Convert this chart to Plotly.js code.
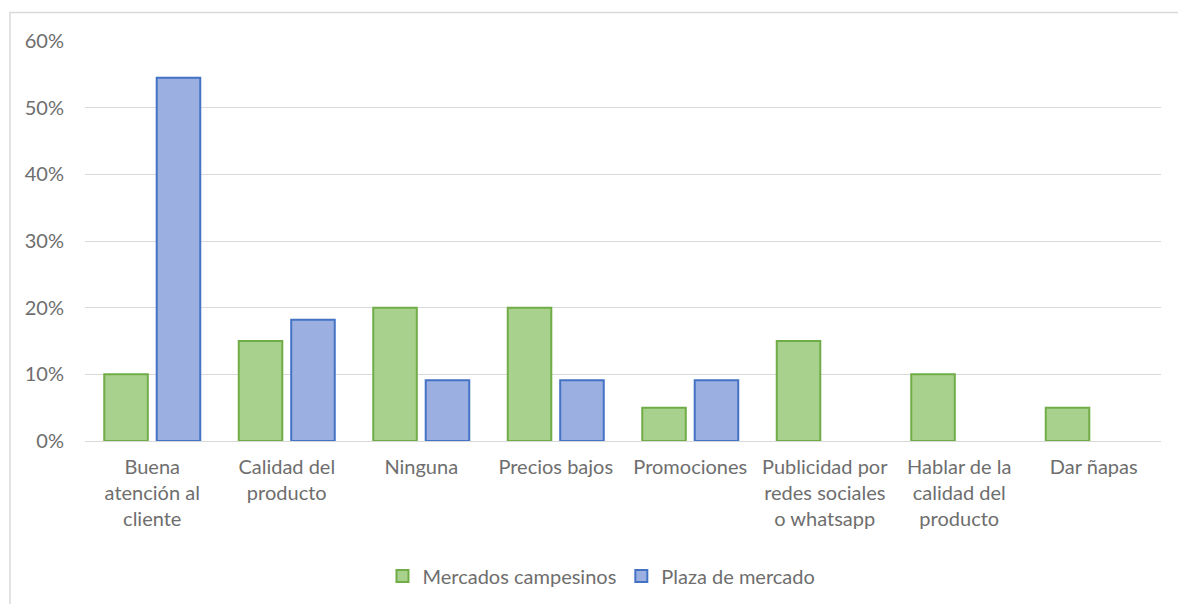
<!DOCTYPE html>
<html>
<head>
<meta charset="utf-8">
<script src="https://cdn.plot.ly/plotly-3.0.1.min.js"></script>
<style>
  html, body { margin: 0; padding: 0; background: #ffffff; }
  #chart { width: 1178px; height: 604px; }
</style>
</head>
<body>
<div id="chart"></div>
<script>
const categories = [
  "Buena<br>atención al<br>cliente",
  "Calidad del<br>producto",
  "Ninguna",
  "Precios bajos",
  "Promociones",
  "Publicidad por<br>redes sociales<br>o whatsapp",
  "Hablar de la<br>calidad del<br>producto",
  "Dar ñapas"
];
const mercadosCampesinos = [0.10, 0.15, 0.20, 0.20, 0.05, 0.15, 0.10, 0.05];
const plazaDeMercado = [0.545, 0.182, 0.091, 0.091, 0.091, null, null, null];
const yTickValues = [0, 0.1, 0.2, 0.3, 0.4, 0.5, 0.6];
const yTickLabels = ["0%", "10%", "20%", "30%", "40%", "50%", "60%"];

const fontFamily = "Lato, 'Open Sans', 'Liberation Sans', sans-serif";
const textColor = "#6e6e6e";

const traces = [
  {
    type: "bar",
    name: "Mercados campesinos",
    x: categories,
    y: mercadosCampesinos,
    marker: { color: "#a9d18e", line: { color: "#70ad47", width: 2 } },
    hoverinfo: "skip"
  },
  {
    type: "bar",
    name: "Plaza de mercado",
    x: categories,
    y: plazaDeMercado,
    marker: { color: "#9bb0e0", line: { color: "#4472c4", width: 2 } },
    hoverinfo: "skip"
  }
];

const layout = {
  width: 1178,
  height: 604,
  margin: { l: 85, r: 17, t: 41, b: 163, autoexpand: false },
  paper_bgcolor: "#ffffff",
  plot_bgcolor: "#ffffff",
  barmode: "group",
  bargap: 0.22,
  bargroupgap: 0.17,
  font: { family: fontFamily, color: textColor, size: 20 },
  showlegend: true,
  legend: {
    orientation: "h",
    x: 0.48,
    xanchor: "center",
    y: -0.3375,
    yanchor: "middle",
    font: { size: 20, color: textColor },
    itemwidth: 30,
    traceorder: "normal"
  },
  xaxis: {
    type: "category",
    automargin: false,
    showgrid: false,
    showline: true,
    linecolor: "#d9d9d9",
    linewidth: 1,
    ticks: "",
    tickangle: 0,
    ticklabelstandoff: 8,
    tickfont: { size: 20, color: textColor },
    fixedrange: true
  },
  yaxis: {
    automargin: false,
    range: [0, 0.6],
    tickvals: yTickValues,
    ticktext: yTickLabels,
    showgrid: true,
    gridcolor: "#d9d9d9",
    gridwidth: 1,
    zeroline: false,
    showline: false,
    ticks: "",
    ticklabelstandoff: 20,
    tickfont: { size: 20, color: textColor },
    fixedrange: true
  },
  shapes: [
    {
      type: "rect",
      xref: "paper",
      yref: "paper",
      x0: -0.0697,
      x1: 1.2,
      y0: -1,
      y1: 1.071,
      line: { color: "#d9d9d9", width: 1.5 },
      fillcolor: "rgba(0,0,0,0)",
      layer: "below"
    }
  ]
};

Plotly.newPlot("chart", traces, layout, { displayModeBar: false, staticPlot: true });
</script>
</body>
</html>
